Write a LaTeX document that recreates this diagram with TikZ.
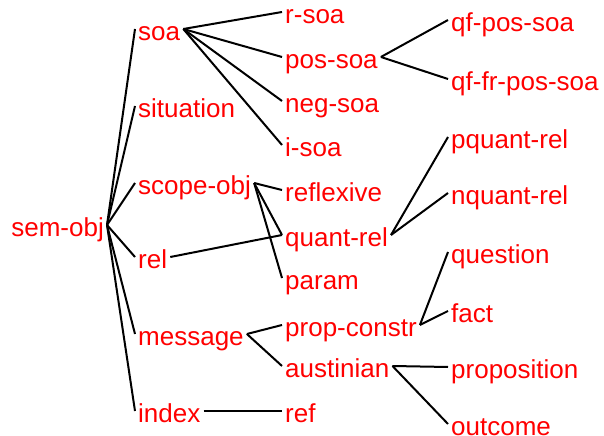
\documentclass[tikz,border=0pt]{standalone}
\usepackage{fontspec}
\setmainfont{Liberation Sans}
\begin{document}
\begin{tikzpicture}[x=1bp,y=-1bp,
  typ/.style={text=red, font=\fontsize{26bp}{30bp}\selectfont,
    text height=11bp, text depth=0pt, inner xsep=3bp, inner ysep=0pt,
    anchor=north west},
  isa/.style={line width=2bp, draw=black}]
\useasboundingbox (0,0) rectangle (604,436);

% root
\node[typ, anchor=north east] (semobj) at (107,225) {sem-obj};

% first level
\node[typ] (soa)       at (135,29)  {soa};
\node[typ] (situation) at (135,106) {situation};
\node[typ] (scopeobj)  at (135,183) {scope-obj};
\node[typ] (rel)       at (135,257) {rel};
\node[typ] (message)   at (135,334) {message};
\node[typ] (index)     at (135,411) {index};

% second level
\node[typ] (rsoa)       at (282,12)  {r-soa};
\node[typ] (possoa)     at (282,57)  {pos-soa};
\node[typ] (negsoa)     at (282,101) {neg-soa};
\node[typ] (isoa)       at (282,145) {i-soa};
\node[typ] (reflexive)  at (282,190) {reflexive};
\node[typ] (quantrel)   at (282,235) {quant-rel};
\node[typ] (param)      at (282,278) {param};
\node[typ] (propconstr) at (282,325) {prop-constr};
\node[typ] (austinian)  at (282,366) {austinian};
\node[typ] (ref)        at (282,411) {ref};

% third level
\node[typ] (qfpossoa)    at (448,20)  {qf-pos-soa};
\node[typ] (qffrpossoa)  at (448,79)  {qf-fr-pos-soa};
\node[typ] (pquantrel)   at (448,137) {pquant-rel};
\node[typ] (nquantrel)   at (448,193) {nquant-rel};
\node[typ] (question)    at (448,252) {question};
\node[typ] (fact)        at (448,311) {fact};
\node[typ] (proposition) at (448,367) {proposition};
\node[typ] (outcome)     at (448,424) {outcome};

% subtype links: from the right end of a type to the left end of its subtypes
\foreach \sup/\subs in {semobj/{soa,situation,scopeobj,rel,message,index},
                        soa/{rsoa,possoa,negsoa,isoa},
                        possoa/{qfpossoa,qffrpossoa},
                        scopeobj/{reflexive,quantrel,param},
                        rel/{quantrel},
                        quantrel/{pquantrel,nquantrel},
                        message/{propconstr,austinian},
                        propconstr/{question,fact},
                        austinian/{proposition,outcome},
                        index/{ref}}
  \foreach \sub in \subs
    \draw[isa] (\sup.north east) -- (\sub.north west);
\end{tikzpicture}
\end{document}
